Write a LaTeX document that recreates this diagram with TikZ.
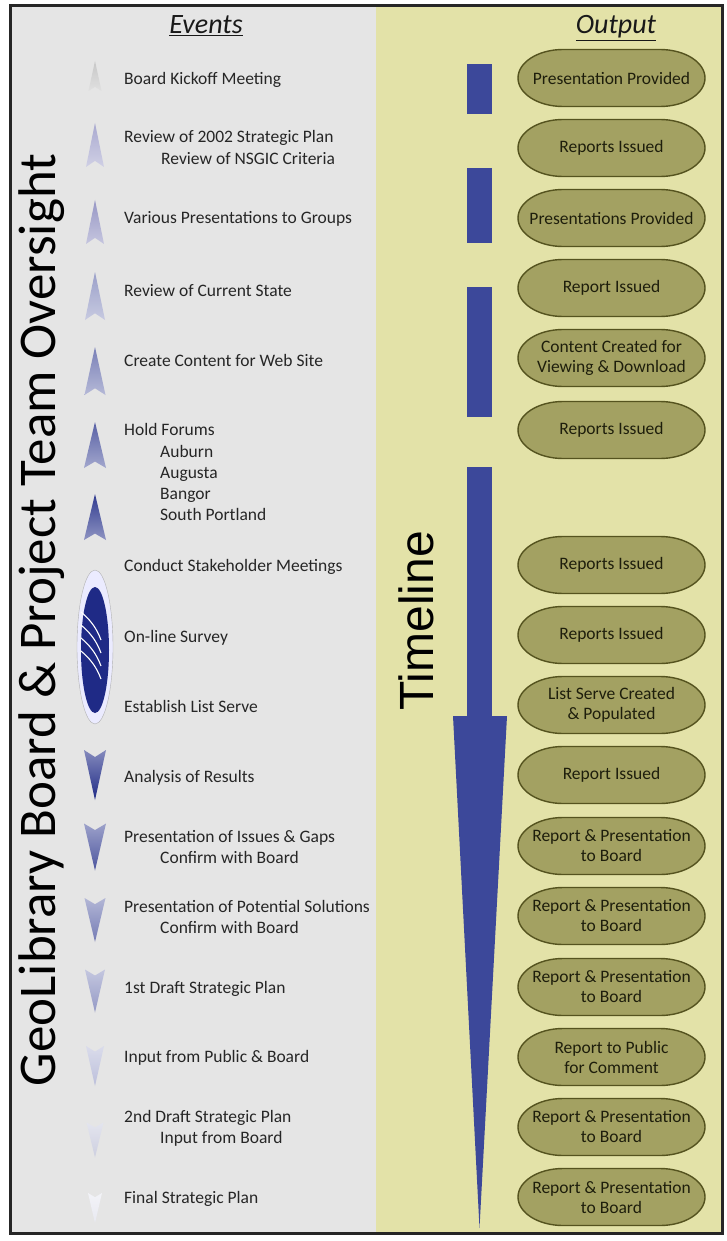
\documentclass[tikz,border=0pt]{standalone}
\usepackage{fontspec}
\setmainfont{Carlito}
\newfontfamily\tlfont{Liberation Sans}
\definecolor{greybg}{HTML}{E5E5E5}
\definecolor{yellowbg}{HTML}{E3E2A8}
\definecolor{olivefill}{HTML}{A3A162}
\definecolor{olivedk}{HTML}{55531F}
\definecolor{outtxt}{HTML}{1E1E0C}
\definecolor{evtxt}{HTML}{262626}
\definecolor{tlblue}{HTML}{3C489A}
\definecolor{navy}{HTML}{1F2A86}
\newcommand\chevup[5]{% x, y, width, height, colour
  \shade[top color=#5, bottom color=#5!55!white]
    (#1,#2-#4/2) .. controls (#1+#3/6,#2-#4/6) .. (#1+#3/2,#2+#4/2) -- (#1,#2+#4/2-0.14*#4)
    -- (#1-#3/2,#2+#4/2) .. controls (#1-#3/6,#2-#4/6) .. (#1,#2-#4/2) -- cycle;}
\newcommand\chevdown[5]{% x, y, width, height, colour
  \shade[top color=#5!55!white, bottom color=#5]
    (#1,#2+#4/2) .. controls (#1+#3/6,#2+#4/6) .. (#1+#3/2,#2-#4/2) -- (#1,#2-#4/2+0.14*#4)
    -- (#1-#3/2,#2-#4/2) .. controls (#1-#3/6,#2+#4/6) .. (#1,#2+#4/2) -- cycle;}
% output pill: name, y, text
\newcommand\obox[3]{%
  \draw[olivedk, fill=olivefill, line width=1.4pt]
    (563,#2-28.5) -- (660,#2-28.5) arc[start angle=-90, end angle=90, x radius=45, y radius=28.5]
    -- (563,#2+28.5) arc[start angle=90, end angle=270, x radius=45, y radius=28.5] -- cycle;
  \node[otext] (#1) at (611.5,#2) {#3};}
\begin{document}
\begin{tikzpicture}[x=1pt,y=-1pt,
  evt/.style={anchor=base west, inner sep=0, text=evtxt, font=\fontsize{17.5}{21}\selectfont},
  otext/.style={inner sep=0, align=center, text=outtxt, font=\fontsize{17.5}{20}\selectfont},
  head/.style={anchor=base, inner sep=0, text=black!90, font=\fontsize{28}{30}\selectfont\itshape},
  bar/.style={fill=tlblue, draw=none}]
\useasboundingbox (0,0) rectangle (727,1241);
\fill[white] (0,0) rectangle (727,1241);
% panels
\fill[greybg] (10,6) rectangle (376,1233);
\fill[yellowbg] (376,6) rectangle (722,1233);
\draw[line width=3pt, black!85] (10,6) rectangle (722,1233);
% headers
\node[head] (hev) at (206,34) {\underline{Events}};
\node[head] (hout) at (616,34) {\underline{Output}};
% vertical titles
\node[rotate=90, inner sep=0, font=\fontsize{53}{55}\selectfont, text=black] (side) at (42,620)
  {GeoLibrary Board \& Project Team Oversight};
\node[rotate=90, inner sep=0, font=\tlfont\fontsize{48}{50}\selectfont, text=black] (tl) at (416,621) {Timeline};
% timeline bars and arrow
\fill[bar] (467,64) rectangle (492,114);
\fill[bar] (467,168) rectangle (492,243);
\fill[bar] (467,287) rectangle (492,417);
\fill[bar] (467,467) rectangle (492,717);
\fill[bar] (453,716) -- (507,716) -- (479.5,1228) -- cycle;
% up chevrons
\chevup{95}{76}{13}{30}{black!22!white}
\chevup{95}{145}{18}{44}{black!22!white!85!blue}
\chevup{95}{222}{18}{44}{black!28!white!82!blue}
\chevup{95}{296}{20}{48}{navy!45!white}
\chevup{95}{371}{21}{48}{navy!60!white}
\chevup{95}{445}{22}{46}{navy!75!white}
\chevup{95}{517}{22}{46}{navy!92!white}
% survey ellipse
\fill[white!92!blue, draw=black!30] (95,647) ellipse [x radius=18, y radius=77];
\fill[navy] (95,650) ellipse [x radius=14, y radius=63];
\foreach \k in {0,1,2,3}
  \draw[white, line width=1.1pt] (81,612+\k*13) .. controls (88,618+\k*13) and (96,626+\k*13) .. (101,640+\k*13);
% down chevrons
\chevdown{95}{775}{22}{50}{navy}
\chevdown{95}{847}{22}{47}{navy!80!white}
\chevdown{95}{920}{21}{44}{navy!62!white}
\chevdown{95}{991}{20}{43}{navy!48!white}
\chevdown{95}{1066}{18}{40}{navy!30!white}
\chevdown{95}{1140}{17}{35}{black!15!navy!22!white}
\chevdown{95}{1208}{14}{30}{black!10!navy!10!white}
% events
\node[evt] (e1) at (124,85) {Board Kickoff Meeting};
\node[evt] (e2) at (124,143) {Review of 2002 Strategic Plan};
\node[evt] (e2b) at (161,165) {Review of NSGIC Criteria};
\node[evt] (e3) at (124,224) {Various Presentations to Groups};
\node[evt] (e4) at (124,296) {Review of Current State};
\node[evt] (e5) at (124,366) {Create Content for Web Site};
\node[evt] (e6) at (124,435) {Hold Forums};
\node[evt] (e6a) at (160,457) {Auburn};
\node[evt] (e6b) at (160,478) {Augusta};
\node[evt] (e6c) at (160,499) {Bangor};
\node[evt] (e6d) at (160,520) {South Portland};
\node[evt] (e7) at (124,571) {Conduct Stakeholder Meetings};
\node[evt] (e8) at (124,642) {On-line Survey};
\node[evt] (e9) at (124,712) {Establish List Serve};
\node[evt] (e10) at (124,782) {Analysis of Results};
\node[evt] (e11) at (124,842) {Presentation of Issues \& Gaps};
\node[evt] (e11b) at (160,863) {Confirm with Board};
\node[evt] (e12) at (124,912) {Presentation of Potential Solutions};
\node[evt] (e12b) at (160,933) {Confirm with Board};
\node[evt] (e13) at (124,993) {1st Draft Strategic Plan};
\node[evt] (e14) at (124,1062) {Input from Public \& Board};
\node[evt] (e15) at (124,1122) {2nd Draft Strategic Plan};
\node[evt] (e15b) at (160,1143) {Input from Board};
\node[evt] (e16) at (124,1203) {Final Strategic Plan};
% outputs
\obox{o1}{78}{Presentation Provided}
\obox{o2}{148}{Reports Issued}
\obox{o3}{218}{Presentations Provided}
\obox{o4}{288}{Report Issued}
\obox{o5}{358}{Content Created for\\Viewing \& Download}
\obox{o6}{430}{Reports Issued}
\obox{o7}{565}{Reports Issued}
\obox{o8}{635}{Reports Issued}
\obox{o9}{705}{List Serve Created\\\& Populated}
\obox{o10}{775}{Report Issued}
\obox{o11}{846}{Report \& Presentation\\to Board}
\obox{o12}{916}{Report \& Presentation\\to Board}
\obox{o13}{987}{Report \& Presentation\\to Board}
\obox{o14}{1057}{Report to Public\\for Comment}
\obox{o15}{1127}{Report \& Presentation\\to Board}
\obox{o16}{1197}{Report \& Presentation\\to Board}
\end{tikzpicture}
\end{document}
